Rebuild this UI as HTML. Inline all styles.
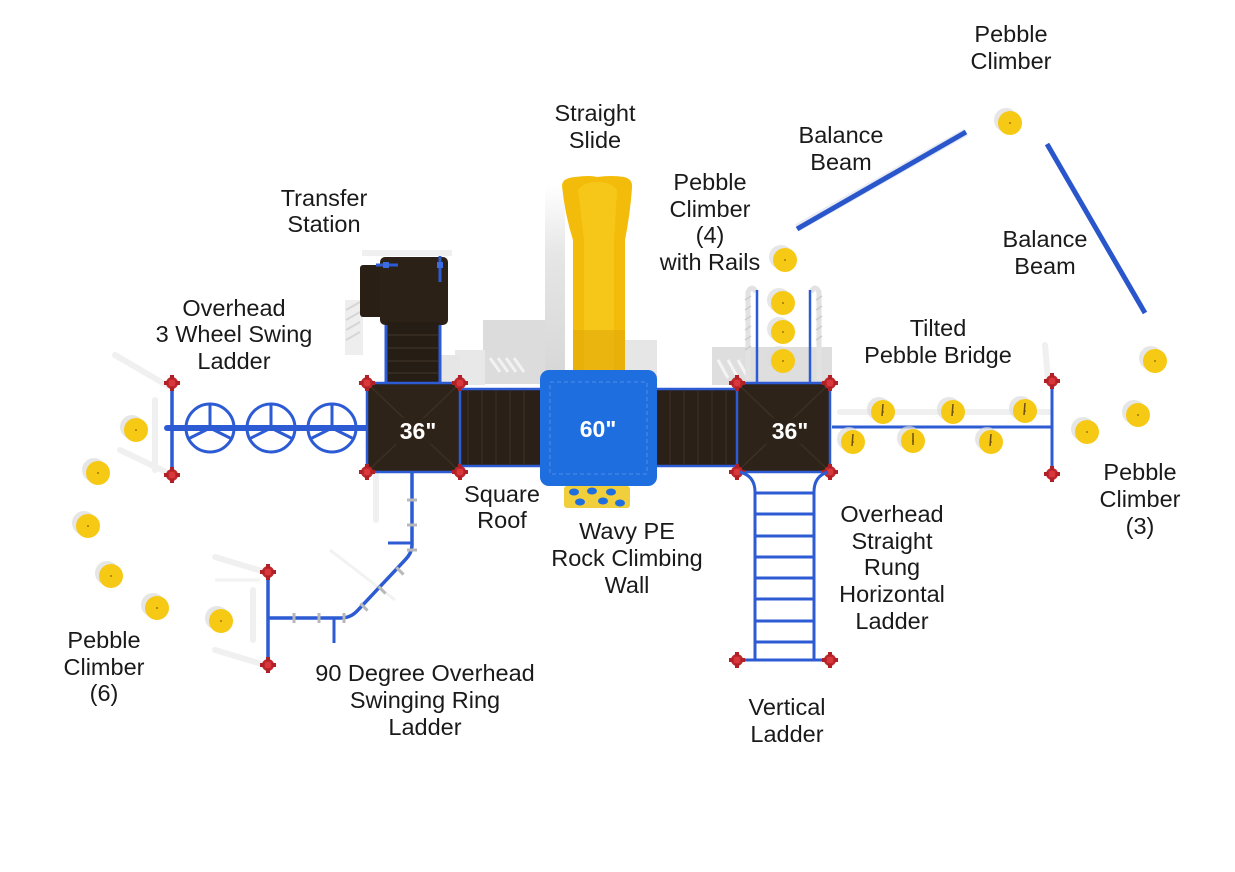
<!DOCTYPE html>
<html><head><meta charset="utf-8"><style>
html,body{margin:0;padding:0;background:#fff;}
svg{display:block;}
.t{font-family:"Liberation Sans",Arial,sans-serif;font-size:23.5px;fill:#1a1a1a;text-anchor:middle;}
.d{font-family:"Liberation Sans",Arial,sans-serif;font-weight:bold;font-size:23px;fill:#fff;text-anchor:middle;}
</style></head><body>
<svg width="1235" height="872" viewBox="0 0 1235 872" xmlns="http://www.w3.org/2000/svg">
<defs>
<linearGradient id="sg" x1="0" y1="0" x2="0" y2="1"><stop offset="0" stop-color="#ffffff"/><stop offset="0.35" stop-color="#e6e6e6"/><stop offset="1" stop-color="#d6d6d6"/></linearGradient>
<g id="cap"><circle r="6" fill="#c0262c"/><rect x="-8" y="-2" width="16" height="4" fill="#b02026"/><rect x="-2" y="-8" width="4" height="16" fill="#b02026"/><circle r="3.5" fill="#d8383c"/></g>
<g id="peb"><circle cx="-4" cy="-3" r="12" fill="#dcdcdc" opacity="0.7"/><circle r="12" fill="#f6c915"/><circle r="1" fill="#a07800"/></g>
<g id="mk"><rect x="-5" y="-1.5" width="10" height="3" fill="#b8b8b8"/></g>
<g id="mkv"><rect x="-1.5" y="-5" width="3" height="10" fill="#b8b8b8"/></g>
</defs>
<rect width="1235" height="872" fill="#fff"/>

<!-- shadows -->
<rect x="483" y="320" width="80" height="64" fill="#dcdcdc"/>
<rect x="545" y="185" width="20" height="200" fill="url(#sg)"/>
<g stroke="#f2f2f2" stroke-width="3"><line x1="490" y1="358" x2="500" y2="372"/><line x1="498" y1="358" x2="508" y2="372"/><line x1="506" y1="358" x2="516" y2="372"/><line x1="514" y1="358" x2="524" y2="372"/></g>
<rect x="625" y="340" width="32" height="44" fill="#e6e6e6"/>
<rect x="712" y="347" width="120" height="38" fill="#dedede"/>
<g stroke="#f4f4f4" stroke-width="3"><line x1="718" y1="360" x2="728" y2="378"/><line x1="728" y1="360" x2="738" y2="378"/><line x1="738" y1="360" x2="748" y2="378"/></g>
<rect x="455" y="350" width="30" height="35" fill="#e8e8e8"/>
<!-- rail arches -->
<g fill="none" stroke="#e2e2e2" stroke-width="5">
<path d="M748,380 L748,292 Q752,284 756,292"/>
<path d="M819,380 L819,292 Q815,284 811,292"/>
</g>
<g stroke="#cccccc" stroke-width="1.5"><line x1="745" y1="300" x2="751" y2="296"/><line x1="745" y1="310" x2="751" y2="306"/><line x1="745" y1="320" x2="751" y2="316"/><line x1="745" y1="330" x2="751" y2="326"/><line x1="745" y1="340" x2="751" y2="336"/><line x1="745" y1="350" x2="751" y2="346"/><line x1="816" y1="300" x2="822" y2="296"/><line x1="816" y1="310" x2="822" y2="306"/><line x1="816" y1="320" x2="822" y2="316"/><line x1="816" y1="330" x2="822" y2="326"/><line x1="816" y1="340" x2="822" y2="336"/></g>
<!-- railing shadows near transfer -->
<rect x="345" y="300" width="18" height="55" fill="#eeeeee"/>
<g stroke="#d6d6d6" stroke-width="2"><line x1="346" y1="310" x2="360" y2="302"/><line x1="346" y1="320" x2="360" y2="312"/><line x1="346" y1="330" x2="360" y2="322"/><line x1="346" y1="340" x2="360" y2="332"/></g>
<rect x="440" y="355" width="20" height="28" fill="#e6e6e6"/>
<rect x="362" y="250" width="90" height="6" fill="#f0f0f0"/>
<!-- faint shadows left -->
<g stroke="#f0f0f0" stroke-width="6" stroke-linecap="round">
<line x1="115" y1="355" x2="168" y2="386"/><line x1="120" y1="450" x2="168" y2="473"/><line x1="155" y1="400" x2="155" y2="470"/>
<line x1="215" y1="557" x2="265" y2="572"/><line x1="215" y1="650" x2="265" y2="665"/><line x1="253" y1="590" x2="253" y2="640"/>
<line x1="376" y1="475" x2="376" y2="520"/><line x1="1045" y1="345" x2="1048" y2="380"/>
<line x1="840" y1="412" x2="1050" y2="412"/>
</g>
<g stroke="#f2f2f2" stroke-width="3"><line x1="330" y1="550" x2="395" y2="600"/><line x1="215" y1="580" x2="260" y2="580"/></g>

<!-- left wheel ladder -->
<g stroke="#2c5bd4" fill="none" stroke-width="3">
<circle cx="210" cy="428" r="24"/><circle cx="271" cy="428" r="24"/><circle cx="332" cy="428" r="24"/>
<path d="M210,428 V404 M210,428 L188,439 M210,428 L232,439"/>
<path d="M271,428 V404 M271,428 L249,439 M271,428 L293,439"/>
<path d="M332,428 V404 M332,428 L310,439 M332,428 L354,439"/>
</g>
<line x1="167" y1="428" x2="370" y2="428" stroke="#2c5bd4" stroke-width="6" stroke-linecap="round"/>
<line x1="172" y1="383" x2="172" y2="475" stroke="#2c5bd4" stroke-width="3.5"/>
<use href="#cap" x="172" y="383"/><use href="#cap" x="172" y="475"/>

<!-- transfer station -->
<rect x="360" y="265" width="30" height="52" rx="3" fill="#2a1f15"/>
<rect x="380" y="257" width="68" height="68" rx="5" fill="#2c2117"/>
<rect x="386" y="322" width="54" height="61" fill="#261d14"/>
<g stroke="#3a2f24" stroke-width="1.5"><line x1="388" y1="335" x2="438" y2="335"/><line x1="388" y1="348" x2="438" y2="348"/><line x1="388" y1="361" x2="438" y2="361"/><line x1="388" y1="373" x2="438" y2="373"/></g>
<line x1="386" y1="325" x2="386" y2="384" stroke="#2c5bd4" stroke-width="3"/>
<line x1="440" y1="325" x2="440" y2="384" stroke="#2c5bd4" stroke-width="3"/>
<line x1="376" y1="265" x2="398" y2="265" stroke="#2c5bd4" stroke-width="3"/>
<line x1="440" y1="256" x2="440" y2="282" stroke="#2c5bd4" stroke-width="3"/>
<rect x="383" y="262" width="6" height="6" fill="#3d6be0"/>
<rect x="437" y="262" width="6" height="6" fill="#3d6be0"/>

<!-- bridges -->
<rect x="455" y="389" width="86" height="77" fill="#2a2017"/>
<rect x="656" y="389" width="84" height="77" fill="#2a2017"/>
<g stroke="#382c20" stroke-width="1.5">
<line x1="468" y1="391" x2="468" y2="464"/><line x1="482" y1="391" x2="482" y2="464"/><line x1="496" y1="391" x2="496" y2="464"/><line x1="510" y1="391" x2="510" y2="464"/><line x1="524" y1="391" x2="524" y2="464"/>
<line x1="670" y1="391" x2="670" y2="464"/><line x1="684" y1="391" x2="684" y2="464"/><line x1="698" y1="391" x2="698" y2="464"/><line x1="712" y1="391" x2="712" y2="464"/><line x1="726" y1="391" x2="726" y2="464"/>
</g>
<g stroke="#2c5bd4" stroke-width="2.5">
<line x1="455" y1="389" x2="541" y2="389"/><line x1="455" y1="466" x2="541" y2="466"/>
<line x1="656" y1="389" x2="740" y2="389"/><line x1="656" y1="466" x2="740" y2="466"/>
</g>

<!-- decks -->
<rect x="367" y="383" width="93" height="89" fill="#2e2319" stroke="#2c5bd4" stroke-width="2.5"/>
<g stroke="#3b3024" stroke-width="1.5"><line x1="369" y1="385" x2="458" y2="470"/><line x1="458" y1="385" x2="369" y2="470"/></g>
<rect x="737" y="383" width="93" height="89" fill="#2e2319" stroke="#2c5bd4" stroke-width="2.5"/>
<g stroke="#3b3024" stroke-width="1.5"><line x1="739" y1="385" x2="828" y2="470"/><line x1="828" y1="385" x2="739" y2="470"/></g>
<rect x="380" y="418" width="70" height="26" fill="#2e2319" opacity="0.8"/>
<rect x="750" y="418" width="70" height="26" fill="#2e2319" opacity="0.8"/>
<text class="d" x="418" y="439">36"</text>
<text class="d" x="790" y="439">36"</text>

<!-- slide -->
<path d="M562,186 Q562,178 575,177 Q590,175 597,177 Q612,175 624,177 Q633,179 632,188 Q630,215 625,240 L625,372 L573,372 L573,240 Q565,215 562,186 Z" fill="#f3bc0a"/>
<path d="M578,190 Q584,182 597,182 Q611,182 617,190 L614,240 L614,372 L584,372 L584,240 Z" fill="#f6c718"/>
<rect x="573" y="330" width="52" height="42" fill="#e2a80a" opacity="0.6"/>

<!-- blue deck -->
<rect x="540" y="370" width="117" height="116" rx="9" fill="#1f6ee0"/>
<g stroke="#4f8ce8" stroke-width="1" stroke-dasharray="4 3" fill="none"><rect x="550" y="382" width="97" height="92"/></g>
<text class="d" x="598" y="437">60"</text>
<!-- rock wall -->
<rect x="564" y="486" width="66" height="22" rx="3" fill="#f1cf3c"/>
<g fill="#1f6ee0"><ellipse cx="574" cy="492" rx="5" ry="3.5"/><ellipse cx="592" cy="491" rx="5" ry="3.5"/><ellipse cx="611" cy="492" rx="5" ry="3.5"/><ellipse cx="580" cy="502" rx="5" ry="3.5"/><ellipse cx="603" cy="501" rx="5" ry="3.5"/><ellipse cx="620" cy="503" rx="5" ry="3.5"/></g>

<!-- deck corner caps -->
<use href="#cap" x="367" y="383"/><use href="#cap" x="460" y="383"/><use href="#cap" x="367" y="472"/><use href="#cap" x="460" y="472"/>
<use href="#cap" x="737" y="383"/><use href="#cap" x="830" y="383"/><use href="#cap" x="737" y="472"/><use href="#cap" x="830" y="472"/>

<!-- 90 degree ring ladder -->
<path d="M412,472 L412,545 Q412,553 405,560 L358,610 Q351,618 341,618 L268,618" stroke="#2c5bd4" stroke-width="3.5" fill="none"/>
<line x1="388" y1="543" x2="412" y2="543" stroke="#2c5bd4" stroke-width="3"/>
<line x1="334" y1="618" x2="334" y2="643" stroke="#2c5bd4" stroke-width="3"/>
<line x1="268" y1="572" x2="268" y2="665" stroke="#2c5bd4" stroke-width="3.5"/>
<use href="#mk" x="412" y="500"/><use href="#mk" x="412" y="525"/><use href="#mk" x="412" y="550"/>
<use href="#mkv" x="294" y="618"/><use href="#mkv" x="319" y="618"/><use href="#mkv" x="344" y="618"/>
<g transform="translate(400,571) rotate(45)"><rect x="-5" y="-1.5" width="10" height="3" fill="#b8b8b8"/></g>
<g transform="translate(382,590) rotate(45)"><rect x="-5" y="-1.5" width="10" height="3" fill="#b8b8b8"/></g>
<g transform="translate(364,607) rotate(45)"><rect x="-5" y="-1.5" width="10" height="3" fill="#b8b8b8"/></g>
<use href="#cap" x="268" y="572"/><use href="#cap" x="268" y="665"/>

<!-- vertical ladder -->
<g stroke="#2c5bd4" stroke-width="3" fill="none">
<path d="M740,472 Q755,476 755,492 L755,660"/>
<path d="M828,472 Q814,476 814,492 L814,660"/>
<line x1="737" y1="660" x2="830" y2="660"/>
<line x1="755" y1="493" x2="814" y2="493"/><line x1="755" y1="514" x2="814" y2="514"/><line x1="755" y1="536" x2="814" y2="536"/><line x1="755" y1="557" x2="814" y2="557"/><line x1="755" y1="578" x2="814" y2="578"/><line x1="755" y1="599" x2="814" y2="599"/><line x1="755" y1="621" x2="814" y2="621"/><line x1="755" y1="642" x2="814" y2="642"/>
</g>
<use href="#cap" x="737" y="660"/><use href="#cap" x="830" y="660"/>

<!-- pebble climber (4) with rails -->
<line x1="757" y1="290" x2="757" y2="383" stroke="#2c5bd4" stroke-width="2.5"/>
<line x1="810" y1="290" x2="810" y2="383" stroke="#2c5bd4" stroke-width="2.5"/>
<use href="#peb" x="785" y="260"/><use href="#peb" x="783" y="303"/><use href="#peb" x="783" y="332"/><use href="#peb" x="783" y="361"/>

<!-- tilted pebble bridge -->
<line x1="832" y1="427" x2="1052" y2="427" stroke="#2c5bd4" stroke-width="3"/>
<line x1="1052" y1="381" x2="1052" y2="474" stroke="#2c5bd4" stroke-width="3"/>
<use href="#cap" x="1052" y="381"/><use href="#cap" x="1052" y="474"/>
<use href="#peb" x="883" y="412"/><use href="#peb" x="953" y="412"/><use href="#peb" x="1025" y="411"/>
<use href="#peb" x="853" y="442"/><use href="#peb" x="913" y="441"/><use href="#peb" x="991" y="442"/>
<g stroke="#6b5010" stroke-width="1.5"><line x1="883" y1="404" x2="882" y2="416"/><line x1="953" y1="404" x2="952" y2="416"/><line x1="1025" y1="403" x2="1024" y2="415"/><line x1="853" y1="434" x2="852" y2="446"/><line x1="913" y1="433" x2="913" y2="445"/><line x1="991" y1="434" x2="990" y2="446"/></g>

<!-- pebble climber (3) -->
<use href="#peb" x="1087" y="432"/><use href="#peb" x="1138" y="415"/><use href="#peb" x="1155" y="361"/>
<!-- pebble climber top -->
<use href="#peb" x="1010" y="123"/>
<!-- balance beams -->
<line x1="797" y1="228" x2="966" y2="132" stroke="#e8ebf3" stroke-width="8"/>
<line x1="797" y1="229" x2="966" y2="132" stroke="#2a56cc" stroke-width="5"/>
<line x1="1047" y1="144" x2="1145" y2="313" stroke="#2a56cc" stroke-width="5"/>
<!-- pebble climber (6) -->
<use href="#peb" x="136" y="430"/><use href="#peb" x="98" y="473"/><use href="#peb" x="88" y="526"/><use href="#peb" x="111" y="576"/><use href="#peb" x="157" y="608"/><use href="#peb" x="221" y="621"/>

<!-- labels -->
<text class="t" x="1011" y="42">Pebble</text><text class="t" x="1011" y="69">Climber</text>
<text class="t" x="595" y="121">Straight</text><text class="t" x="595" y="148">Slide</text>
<text class="t" x="841" y="143">Balance</text><text class="t" x="841" y="170">Beam</text>
<text class="t" x="710" y="190">Pebble</text><text class="t" x="710" y="217">Climber</text><text class="t" x="710" y="243">(4)</text><text class="t" x="710" y="270">with Rails</text>
<text class="t" x="1045" y="247">Balance</text><text class="t" x="1045" y="274">Beam</text>
<text class="t" x="324" y="206">Transfer</text><text class="t" x="324" y="232">Station</text>
<text class="t" x="234" y="316">Overhead</text><text class="t" x="234" y="342">3 Wheel Swing</text><text class="t" x="234" y="369">Ladder</text>
<text class="t" x="938" y="336">Tilted</text><text class="t" x="938" y="363">Pebble Bridge</text>
<text class="t" x="502" y="502">Square</text><text class="t" x="502" y="528">Roof</text>
<text class="t" x="627" y="539">Wavy PE</text><text class="t" x="627" y="566">Rock Climbing</text><text class="t" x="627" y="593">Wall</text>
<text class="t" x="892" y="522">Overhead</text><text class="t" x="892" y="549">Straight</text><text class="t" x="892" y="575">Rung</text><text class="t" x="892" y="602">Horizontal</text><text class="t" x="892" y="629">Ladder</text>
<text class="t" x="1140" y="480">Pebble</text><text class="t" x="1140" y="507">Climber</text><text class="t" x="1140" y="534">(3)</text>
<text class="t" x="104" y="648">Pebble</text><text class="t" x="104" y="675">Climber</text><text class="t" x="104" y="701">(6)</text>
<text class="t" x="425" y="681">90 Degree Overhead</text><text class="t" x="425" y="708">Swinging Ring</text><text class="t" x="425" y="735">Ladder</text>
<text class="t" x="787" y="715">Vertical</text><text class="t" x="787" y="742">Ladder</text>
</svg>
</body></html>
